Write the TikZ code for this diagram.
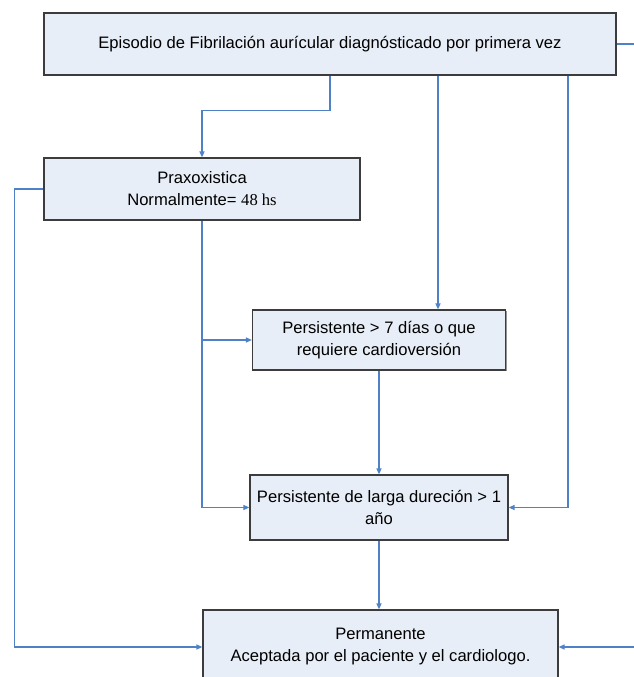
\documentclass[tikz,border=0pt]{standalone}
\usepackage{fontspec}
\setmainfont{Liberation Sans}
\newfontfamily\timesfont{Liberation Serif}
\usetikzlibrary{arrows.meta,shadows}

\definecolor{boxfill}{RGB}{232,238,247}
\definecolor{linkblue}{RGB}{79,129,199}
\definecolor{boxline}{RGB}{60,60,60}

\tikzset{
  box/.style={draw=boxline, fill=boxfill, line width=1.2pt, align=center,
    font=\fontsize{16.6}{22}\selectfont, inner sep=0pt,
    drop shadow={shadow xshift=1pt, shadow yshift=-1pt, fill=black!60, opacity=0.7}},
  link/.style={draw=linkblue, line width=1.3pt, -{Triangle[length=6pt,width=5pt]}},
}

\begin{document}
\begin{tikzpicture}[x=1pt, y=-1pt]
\useasboundingbox (0,0) rectangle (633,677);

\node[box, minimum width=572pt, minimum height=62pt] (epi) at (330,44)
  {Episodio de Fibrilación aurícular diagnósticado por primera vez};
\node[box, minimum width=316pt, minimum height=62pt] (prax) at (202,189)
  {Praxoxistica\\Normalmente= {\timesfont 48 hs}};
\node[box, minimum width=253pt, minimum height=60pt] (pers) at (379,340)
  {Persistente > 7 días o que\\requiere cardioversión};
\node[box, minimum width=258pt, minimum height=65pt] (larga) at (379,507.5)
  {Persistente de larga dureción > 1\\año};
\node[box, minimum width=355pt, minimum height=74pt] (perm) at (380.5,647)
  {Permanente\\Aceptada por el paciente y el cardiologo.};

% desde el primer episodio
\draw[link] (epi.south) -- ++(0,35) -| (prax.north);
\draw[link] (epi.south -| 438,0) -- (pers.north -| 438,0);
\draw[link] (epi.south -| 568,0) |- (larga.east);
\draw[link] (epi.east) -- ++(24,0) |- (perm.east);

% desde praxoxistica
\draw[link] (prax.west) -- ++(-29,0) |- (perm.west);
\draw[link] (prax.south) |- (larga.west);
\draw[link] (prax.south |- pers.west) -- (pers.west);

\draw[link] (pers.south) -- (larga.north);
\draw[link] (larga.south) -- (larga.south |- perm.north);
\end{tikzpicture}
\end{document}
